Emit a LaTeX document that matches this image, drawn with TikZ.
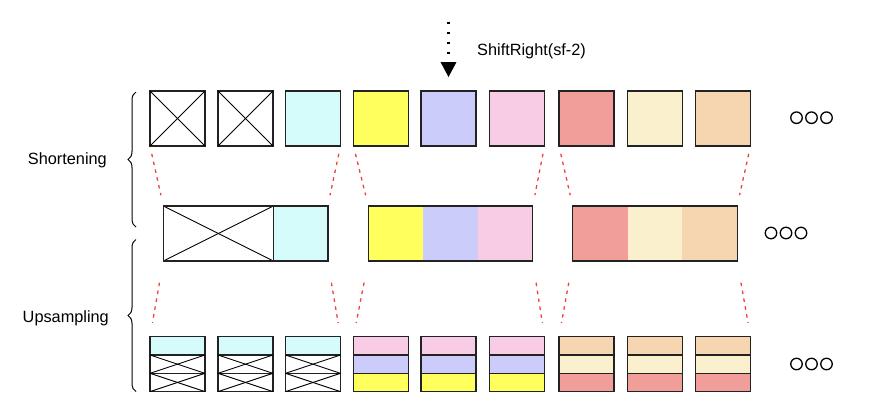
\documentclass[tikz,border=0pt]{standalone}
\usepackage{fontspec}
\setmainfont{Liberation Sans}
\usetikzlibrary{decorations.pathreplacing,arrows.meta}
\definecolor{cCyan}{HTML}{D5FBFB}
\definecolor{cYel}{HTML}{FFFF5E}
\definecolor{cBlue}{HTML}{CCCCFA}
\definecolor{cPink}{HTML}{F7CCE4}
\definecolor{cRed}{HTML}{F19E9B}
\definecolor{cCream}{HTML}{FBF0CE}
\definecolor{cTan}{HTML}{F5D6B0}
\definecolor{cLine}{HTML}{222222}
\definecolor{cDash}{HTML}{F04040}
\tikzset{
  sq/.style={draw=cLine, line width=1.2pt, minimum width=55pt, minimum height=55pt, inner sep=0pt, anchor=north west, outer sep=0pt},
  seg/.style={line width=1.2pt, minimum width=55pt, minimum height=55pt, inner sep=0pt, anchor=north west, outer sep=0pt},
  frame/.style={draw=cLine, line width=1.2pt, fill=none, minimum height=55pt, inner sep=0pt, anchor=north west, outer sep=0pt},
  sub/.style={draw=cLine, line width=1.2pt, minimum width=55pt, minimum height=18.3pt, inner sep=0pt, anchor=north west, outer sep=0pt},
  crossl/.style={line width=0.9pt, black},
  reddash/.style={cDash, line width=1.3pt, dash pattern=on 3.5pt off 4.5pt},
  lbl/.style={font=\fontsize{16.3}{19}\selectfont, inner sep=0pt},
  ring/.style={circle, draw=black, line width=1.3pt, minimum size=11.5pt, inner sep=0pt},
  brc/.style={decorate, decoration={brace, amplitude=8pt}, line width=1pt},
}
\begin{document}
\begin{tikzpicture}[x=1pt,y=-1pt]
\useasboundingbox (0,0) rectangle (870,408);
% top row
\foreach \i/\x/\c in {1/150/white,2/218/white,3/285.5/cCyan,4/353.5/cYel,5/421/cBlue,6/489.5/cPink,7/559/cRed,8/627.3/cCream,9/695.5/cTan}{
  \node[sq, fill=\c] (t\i) at (\x,91) {};
}
\foreach \i in {1,2}{
  \draw[crossl] (t\i.north west) -- (t\i.south east);
  \draw[crossl] (t\i.south west) -- (t\i.north east);
}
% middle row
\node[sq, minimum width=110pt, fill=white] (m1x) at (163.3,206) {};
\draw[crossl] (m1x.north west) -- (m1x.south east);
\draw[crossl] (m1x.south west) -- (m1x.north east);
\node[sq, fill=cCyan] (m1c) at (273.3,206) {};
\node[frame, minimum width=164.4pt] (m1) at (163.3,206) {};
\node[seg, fill=cYel] (m2a) at (368.3,206) {};
\node[seg, fill=cBlue] (m2b) at (423.1,206) {};
\node[seg, fill=cPink] (m2c) at (477.9,206) {};
\node[frame, minimum width=164.4pt] (m2) at (368.3,206) {};
\node[seg, fill=cRed] (m3a) at (572.7,206) {};
\node[seg, fill=cCream] (m3b) at (627.5,206) {};
\node[seg, fill=cTan] (m3c) at (682.3,206) {};
\node[frame, minimum width=164.4pt] (m3) at (572.7,206) {};
% bottom row
\foreach \i/\x/\ca/\cb/\cc in {1/150/cCyan/white/white,2/218/cCyan/white/white,3/285.5/cCyan/white/white,4/353.5/cPink/cBlue/cYel,5/421/cPink/cBlue/cYel,6/489.5/cPink/cBlue/cYel,7/559/cTan/cCream/cRed,8/627.3/cTan/cCream/cRed,9/695.5/cTan/cCream/cRed}{
  \node[sub, fill=\ca] (b\i a) at (\x,336.7) {};
  \node[sub, fill=\cb] (b\i b) at (\x,355) {};
  \node[sub, fill=\cc] (b\i c) at (\x,373.3) {};
  \coordinate (b\i) at (\x,336.7);
  \coordinate (b\i e) at (\x+55,336.7);
}
\foreach \i in {1,2,3}{
  \foreach \r in {b,c}{
    \draw[crossl] (b\i\r.north west) -- (b\i\r.south east);
    \draw[crossl] (b\i\r.south west) -- (b\i\r.north east);
  }
}
% red dashed guides
\draw[reddash, shorten <=8pt, shorten >=11pt] (t1.south west) -- (m1.north west);
\draw[reddash, shorten <=8pt, shorten >=11pt] (t3.south east) -- (m1.north east);
\draw[reddash, shorten <=8pt, shorten >=11pt] (t4.south west) -- (m2.north west);
\draw[reddash, shorten <=8pt, shorten >=11pt] (t6.south east) -- (m2.north east);
\draw[reddash, shorten <=8pt, shorten >=11pt] (t7.south west) -- (m3.north west);
\draw[reddash, shorten <=8pt, shorten >=11pt] (t9.south east) -- (m3.north east);
\draw[reddash, shorten <=22pt, shorten >=14pt] (m1.south west) -- (b1);
\draw[reddash, shorten <=22pt, shorten >=14pt] (m1.south east) -- (b3e);
\draw[reddash, shorten <=22pt, shorten >=14pt] (m2.south west) -- (b4);
\draw[reddash, shorten <=22pt, shorten >=14pt] (m2.south east) -- (b6e);
\draw[reddash, shorten <=22pt, shorten >=14pt] (m3.south west) -- (b7);
\draw[reddash, shorten <=22pt, shorten >=14pt] (m3.south east) -- (b9e);
% braces and labels
\coordinate (br1a) at (136,227);
\coordinate (br1b) at (136,92);
\coordinate (br2a) at (136,391.5);
\coordinate (br2b) at (136,239.5);
\draw[brc] (br1a) -- (br1b);
\draw[brc] (br2a) -- (br2b);
\node[lbl, anchor=east] (lshort) at (107,160) {Shortening};
\node[lbl, anchor=east] (lup) at (109,318) {Upsampling};
% shift arrow
\coordinate (arrs) at (448.5,21.5);
\draw[line width=2.6pt, dash pattern=on 2.6pt off 7.4pt, -{Triangle[width=16pt,length=15pt,line width=0pt]}, shorten >=14pt] (arrs) -- (t5.north);
\node[lbl, anchor=west] (lshift) at (477,51.5) {ShiftRight(sf-2)};
% ellipsis rings
\foreach \n/\x/\y in {r1/796.5/117.7,r2/811.5/117.7,r3/826.5/117.7,s1/771/233,s2/786/233,s3/801/233,u1/796.5/364,u2/811.5/364,u3/826.5/364}{
  \node[ring] (\n) at (\x,\y) {};
}
\end{tikzpicture}
\end{document}
